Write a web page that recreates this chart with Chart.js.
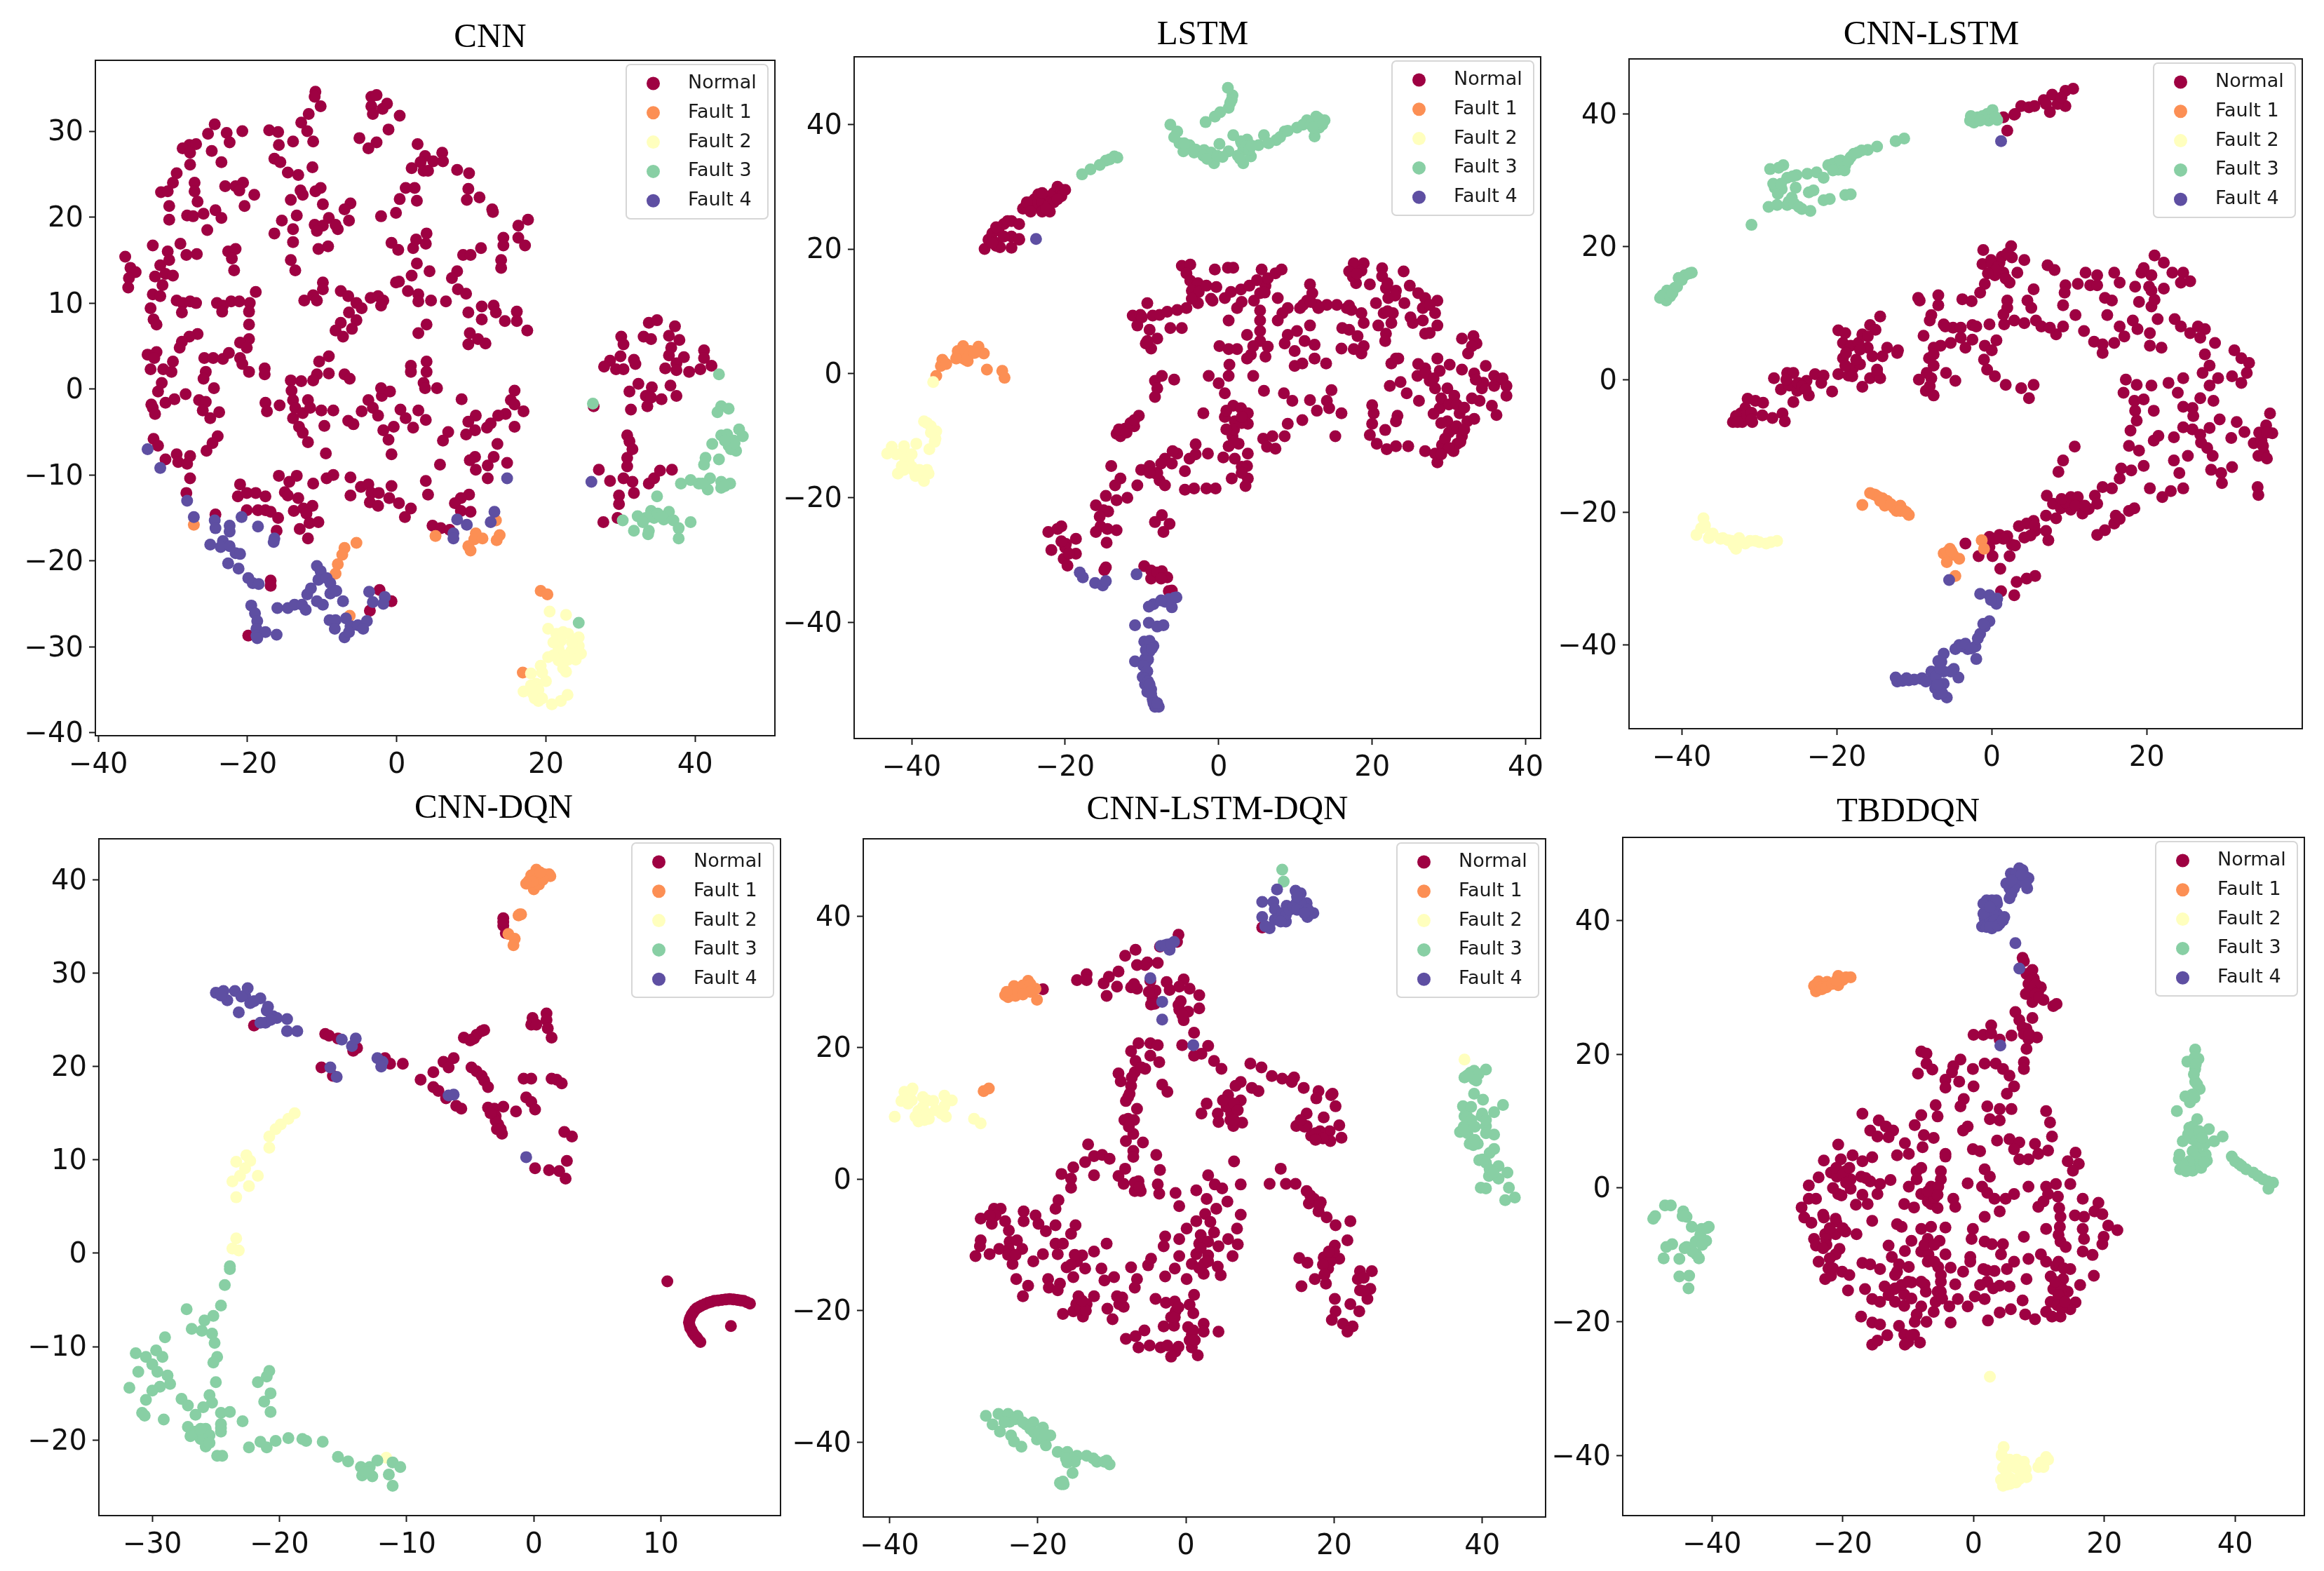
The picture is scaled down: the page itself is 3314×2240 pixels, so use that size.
<!DOCTYPE html>
<html>
<head>
<meta charset="utf-8">
<title>t-SNE feature plots</title>
<script src="https://cdn.jsdelivr.net/npm/chart.js@4"></script>
<style>
  html, body { margin: 0; padding: 0; background: #fff; }
  #page { position: relative; width: 3314px; height: 2240px; overflow: hidden; background: #fff; }
  canvas { position: absolute; }
  .title { position: absolute; font-family: "Liberation Serif", serif; font-size: 49px; color: #000; transform: translate(-50%, -50%); white-space: nowrap; }
</style>
</head>
<body>
<div id="page"></div>
<script>
'use strict'

// legend
const seriesNames = ['Normal', 'Fault 1', 'Fault 2', 'Fault 3', 'Fault 4'];
const seriesColors = ['#9e0142', '#fc8f54', '#ffffbe', '#88cfa4', '#5e4fa2'];

// ---- CNN ----
const cnnXTicks = [-40, -20, 0, 20, 40];
const cnnYTicks = [-40, -30, -20, -10, 0, 10, 20, 30];
const cnnNormal = [[-10.9,34.6],[-11,34],[-10.2,32.9],[-11.8,32],[-12.8,31],[-12,30],[-13.9,28.8],[-11.2,28.8],[-17.1,30.1],[-15.9,29.9],[-15.8,28.4],[-16.4,26.8],[-15.6,26.4],[-14.6,25.2],[-13.2,24.9],[-11.3,25.8],[-12.9,23.1],[-10.2,23.4],[-14.2,22],[-12.6,22.6],[-10.9,23],[-9.9,21.5],[-6.2,21.6],[-7,20.9],[-9.1,19.9],[-6.4,19.6],[-13.4,20.2],[-15.4,19.6],[-13.9,18.6],[-16.4,18.1],[-11,19.1],[-9.9,19],[-10.7,18.4],[-7.9,18.6],[-8.2,19.1],[-13.9,17.1],[-10.5,16.3],[-9.2,16.6],
[-3.4,34],[-2.7,34.2],[-3.4,32.9],[-3.2,32],[-1.9,32.6],[-1.3,33.2],[0.4,31.8],[-1.1,30.2],[-5,29.2],[-2.7,28.7],[-3.8,28],[2.8,28.5],[2,25.7],[3.8,27.1],[3.2,26.4],[4.9,26.5],[6.1,27.5],[6.2,26.5],[3.6,25.4],[4.2,25.4],[8.1,25.5],[9.7,25.1],[1.2,23.4],[2.4,23.4],[9.6,23.3],[9.4,22],[11.1,22.3],[0.4,22.1],[2.7,21.9],[-0.1,20.5],[-2.1,20.1],[12.8,20.9],[12.9,20.6],[17.6,19.7],[16.3,19],
[-24.4,30.8],[-22.8,29.8],[-20.7,30],[-22.4,28.7],[-25.3,29.7],[-27.8,28.4],[-26.9,28.5],[-28.7,28],[-27.7,27.5],[-24.8,27.7],[-23.5,26.4],[-27.7,26.1],[-29.5,25.1],[-30,24],[-31.6,22.9],[-30.7,23],[-27.1,24],[-27.1,23],[-23,23.6],[-21.6,23.6],[-20.6,24],[-21.1,23.1],[-19.1,22.6],[-26.7,21.8],[-30.5,21.3],[-20.4,21.3],[-30.5,19.7],[-28.1,20.2],[-27.3,20.1],[-25.9,20.4],[-24.3,20.8],[-23.5,19.9],[-25.4,18.5],[-32.7,16.7],[-30.7,16],[-29,16.9],[-28.2,15.6],[-26.8,15.7],[-31.7,14.4],[-30.5,15],[-36.4,15.4],[-35.7,14.1],[-35,13.6],[-35.9,12.9],[-36,11.8],[-32.4,13.1],[-31,13.4],[-30,13.2],[-31.4,12.1],[-32.7,11],[-31.7,10.8],[-29.5,10.3],[-28.7,10],[-27.7,10.2],[-26.9,10],[-28.8,8.9],[-33,9.4],[-32.6,8.1],[-32.2,7.5],[-24.1,10],[-23.3,9.7],[-23.4,9],[-22.2,10.2],[-21.1,10.2],[-19.7,10],[-19.8,9],[-18.9,11.3],[-22.6,16],[-21.6,16.3],[-22.1,15.2],[-21.8,13.8],
[-19.8,7.5],[-19.8,5.8],[-21,5.4],[-20.1,4.8],[-26.7,6.4],[-27.8,6.1],[-28.8,5.5],[-29.1,4.8],[-33.4,4],[-32.2,4.3],[-32.5,3.6],[-30,3.2],[-25.8,3.6],[-24.6,3.6],[-23.3,3.5],[-22.5,4.2],[-21,3.6],[-20.7,2.9],[-33,2.3],[-31.3,2.3],[-30.2,2],[-25.6,2],[-25.9,1.2],[-19.8,2],[-17.7,2.4],[-17.7,1.7],[-31.5,0.7],[-32,-0.3],[-28.3,-0.6],[-24.5,0.1],[-32.9,-1.8],[-31,-1.6],[-29.8,-1.2],[-26.5,-1.3],[-25.6,-1.5],[-26,-2.5],[-25,-3.4],[-23.8,-2.7],[-32.7,-2.2],[-32.4,-2.9],[-32.6,-5.8],[-32,-6.6],[-24,-5.5],[-24.7,-6.3],[-25.5,-7.2],[-29.5,-7.6],[-31,-8.2],[-29.3,-8.5],[-27.7,-7.8],[-28.1,-8.7],[-27.7,-10.4],[-28.2,-12.1],
[-10.4,3.2],[-9.1,3.8],[-10.7,1.7],[-11.2,1],[-9.1,1.8],[-7,1.7],[-6.3,1.2],[-14.2,1],[-12.8,0.9],[-14.1,-0.2],[-17.6,-1.6],[-15.7,-1.9],[-17.4,-2.6],[-13.9,-1.3],[-13.6,-2.2],[-13.9,-3.4],[-12.6,-2.8],[-11.9,-1.3],[-11.6,-2.2],[-10.1,-2.5],[-8.5,-2.5],[-9.7,-4.3],[-13.1,-4.4],[-12.6,-5.1],[-11.9,-6.2],[-6.5,-3.7],[-5.8,-4.1],[-4.7,-2.6],[-3.8,-1.3],[-3.2,-2.2],[-2.5,-3.1],[-2,-0.8],[-2.1,0.1],[-0.9,-0.3],[0.5,-2.4],[1.2,-3.4],[2.2,-4.5],[2.9,-2.5],[3.9,-3.6],[-0.4,-4.4],[-1.8,-4.8],[-1.1,-5.9],[-0.7,-7.6],[-9.5,-7.5],[1.9,2.7],[1.9,2],[4,3.2],[4,2],[3.6,0.7],[3.8,0.1],[5.4,0.1],[8.7,-1.2],[15.8,-0.2],[15.3,-1.3],[15.8,-1.8],[14.6,-2.9],[13.6,-3.1],[12.6,-4],[12.1,-4.5],[17,-2.6],[15.8,-4.4],[10.6,-3.1],[9.6,-3.8],[10.5,-4.8],[9.3,-5.3],[6.9,-5],[6.2,-6],[13.5,-6.4],[10.5,-7.9],[9.8,-8.3],[13,-7.9],[12.2,-8.9],[10.6,-9.4],[14.8,-8.6],[5.8,-8.8],[12.2,-10.4],[3.9,-10.7],[4.2,-12.3],[9.7,-12.3],[8.6,-12.7],[7.8,-13.3],[8.6,-14.2],[9.9,-14.3],[4.8,-15.9],[5.9,-16.2],[7.1,-16.4],
[-9.9,12.4],[-9.9,11.6],[-11.2,10.9],[-12.4,10.3],[-10.7,10.3],[-7.5,11.4],[-6.5,10.8],[-5.4,10],[-4.7,9.4],[-6.4,8.9],[-5.4,8],[-7.5,7.7],[-8.2,6.8],[-6,7],[-7.2,6.1],[-3.5,10.6],[-2.5,10.8],[-1.8,10.3],[-2.1,9.7],[-0.1,12.4],[0.3,12.5],[1.5,11.4],[2.9,11],[2.9,10.2],[4.6,10.3],[6.6,10.2],[2,13.2],[4.4,13.7],[2.7,14.6],[-0.7,17],[0.2,16.2],[2.2,16.4],[2.6,17.4],[4,18.1],[3.9,16.9],[8.9,15.6],[9.9,15.6],[11.3,16.4],[8.1,13.7],[7.4,12.9],[8.2,11.6],[9.3,11.1],[14.3,17.6],[14.3,16.7],[16.3,17.6],[17.2,16.7],[14,15],[14,14.1],[11.4,9.6],[13,9.7],[13.3,8.9],[9.6,8.9],[11.4,8.1],[14.5,7.9],[16.1,9],[16.1,7.9],[17.5,6.8],[2.9,6.5],[4,7.5],[9.8,6.5],[10.9,5.8],[11.9,5.3],[9.6,5.2],[-14.2,15],[-13.6,13.8],
[-21,-11.1],[-21.3,-12.5],[-20.1,-12.1],[-18.9,-12.1],[-17.6,-12.5],[-20.1,-14.1],[-18.6,-14.1],[-17.6,-14.1],[-16.9,-14.3],[-15.8,-10.1],[-14.4,-10.8],[-13.4,-10.1],[-15,-12],[-14.6,-12.4],[-13.2,-12.7],[-11.2,-11],[-9.4,-10.4],[-8.5,-10],[-6.2,-10.3],[-4.8,-11.4],[-3.8,-11.1],[-6.2,-12.4],[-3.4,-12.1],[-2.4,-12.1],[-0.7,-11.3],[-3.6,-13.2],[-2.5,-13.6],[-1,-12.7],[0.3,-13.3],[1.9,-13.9],[1.1,-14.9],[-13.8,-14.2],[-12.5,-13.9],[-11.3,-13.6],[-12.1,-14.5],[-15.9,-15],[-11.7,-15.6],[-10.5,-15.5],[-13,-16.3],[-11.9,-17.4],[-16.1,-16.5],[-24.3,-14.6],[-16.9,-22.3],[-16.9,-22.9],[-19.9,-28.7],[-2.3,-23.4],[-0.7,-24.7],[-3.6,-25.8],
[33.8,7.7],[34.9,8],[37.3,7.3],[30.1,6.1],[30.4,5.2],[33.1,6.1],[34.1,5.8],[36.5,6.2],[37.9,5.7],[41.2,4.5],[36.8,4.8],[36.5,3.9],[41.2,3.6],[42.2,2.7],[30,3.8],[31.8,3.4],[28.6,3.3],[27.8,2.6],[29.4,2.3],[30.4,2.3],[32,2.9],[38.5,3.7],[37.5,3],[36,2.4],[37.5,2.2],[39.2,2],[40.7,2.3],[32.4,0.6],[34.2,0.2],[36.7,0.4],[31.2,-0.3],[33.4,-0.8],[34.1,-1],[37.5,-0.8],[35.5,-1.2],[31.4,-2.4],[33.6,-2],[26.4,-2],[30.9,-5.4],[31.2,-6.1],[31.6,-7],[30.9,-8],[30.9,-9],[27.1,-9.4],[28.6,-10.7],[30.4,-10.4],[31.6,-10.8],[31.8,-12.1],[29.8,-12.4],[29.8,-13.4],[33.8,-11],[34.5,-10.4],[35.3,-9.5],[36.9,-9.4],[27.7,-15.5],[29.6,-15]];
const cnnFault1 = [[-27.2,-15.8],[5.2,-17.1],[10.6,-16.8],[10.4,-17.5],[11.5,-17.4],[9.6,-18.3],[9.9,-18.8],[13.3,-15.3],[13.8,-17],[13.4,-17.6],[-5.4,-17.9],[-7,-18.5],[-7.3,-19.3],[-7.9,-20.4],[-8.2,-21.5],[-6.3,-26.4],[19.3,-23.5],[20.2,-23.9],[16.9,-33]];
const cnnFault2 = [[20.5,-25.9],[22.7,-26.3],[20.3,-27.9],[22.3,-28.3],[21.4,-28.5],[24.4,-28.9],[22,-29.3],[24.4,-29.9],[21.7,-30.2],[23.4,-30.5],[24.7,-30.8],[24,-31.5],[20.3,-31.2],[21.7,-31.6],[19.3,-32.2],[22.3,-32.5],[22.7,-32.9],[18,-33.1],[18.7,-34.3],[20,-34],[17,-35.2],[18.3,-35.5],[19,-36.3],[20.8,-36.7],[22,-36.3],[22.9,-35.6],[21,-29.5],[23,-28.5],[23.5,-29.5],[22.5,-31],[21,-31],[19.5,-33],[19,-35],[18.5,-36],[19.5,-36],[18,-34.5],[23,-31.5]];
const cnnFault3 = [[43.2,1.7],[26.3,-1.7],[43.5,-2],[44.5,-2.3],[43,-2.7],[45.9,-4.7],[43.5,-5.4],[44.3,-5.3],[46.4,-5.5],[42.3,-6.4],[45.2,-6],[44.5,-6.6],[45.5,-7.2],[41.4,-8],[43.2,-8.2],[41.2,-8.8],[38.1,-11],[39.4,-10.6],[40.5,-11],[42,-10.4],[43.5,-10.8],[44.7,-11],[41.7,-11.7],[43.5,-11.5],[34.9,-12.5],[30.3,-15.3],[32.3,-14.8],[34.1,-14.2],[36.5,-14.3],[33.4,-15],[34.5,-15],[35.8,-15.2],[31.8,-16.5],[33.8,-16.5],[33.7,-16.9],[37.1,-15.3],[39.4,-15.5],[37.8,-16.2],[37.8,-17.4],[24.4,-27.2],[44.8,-7],[45.3,-6.3],[44,-6],[34,-14.8],[35,-14.5],[33,-15.5],[35.5,-14.8],[41,-11],[44,-11.3]];
const cnnFault4 = [[-33.4,-7],[-31.7,-9.2],[-28.1,-13],[-27.2,-14.9],[-24.4,-15.3],[-24.3,-16.2],[-22.4,-15.9],[-22.4,-16.6],[-20.8,-14.9],[-18.6,-16],[-16.4,-17.4],[-16.5,-17.8],[-25,-18.1],[-23.3,-17.7],[-23.6,-18.4],[-22.4,-18.3],[-21.6,-19.1],[-21,-19.2],[-22.6,-20.3],[-21.2,-20.9],[-19.9,-22],[-19.3,-22.6],[-18.5,-22.7],[-19.5,-25.2],[-19,-26.1],[-18.7,-27],[-18.8,-27.9],[-18.8,-28.7],[-17.6,-28.3],[-18.7,-29],[-16.1,-28.6],[-16,-25.5],[-14.6,-25.5],[-13.7,-25.1],[-12.7,-25.1],[-12.2,-25.7],[-12,-23.9],[-11.5,-23.2],[-10.7,-20.6],[-10.2,-21.2],[-10.5,-22.2],[-9.4,-22],[-8.9,-22.6],[-8.9,-23.8],[-8.1,-23.5],[-10.7,-24.7],[-9.9,-25.1],[-7.2,-24.7],[-9,-26.9],[-8.2,-26.9],[-8.3,-27.9],[-6.8,-26.7],[-6.2,-27.6],[-7,-28.9],[-6.4,-28.3],[-5.2,-27.5],[-4,-27],[-4.5,-27.9],[-3.7,-23.6],[-3.2,-24.8],[-1.6,-24.2],[-1.8,-25],[7.6,-16.8],[7.6,-17.4],[8.1,-15.2],[9.4,-15.8],[12.6,-15.5],[13.1,-14.3],[14.8,-10.4],[26.1,-10.8]];

// ---- LSTM ----
const lstmXTicks = [-40, -20, 0, 20, 40];
const lstmYTicks = [-40, -20, 0, 20, 40];
const lstmNormal = [[-30.5,20],[-30,21.5],[-29.5,22.5],[-29,21],[-28.7,23],[-28.5,20.3],[-28,24],[-27.5,24.5],[-27,20.2],[-27,22],[-27,24.5],[-26,24],[-26,21.5],[-25.5,26.5],[-25,26.8],[-24.5,27.5],[-24,28],[-24,27],[-23.5,28.8],[-23,27.5],[-23,26],[-22,26],[-22,27.5],[-22,28.5],[-21.5,29],[-21.5,27.5],[-21,30],[-20.5,29.5],[-20.5,28.5],[-20,29.5],
[-4.8,17.3],[-3.7,17.5],[-4.2,16.1],[-3.7,14.9],[-2.7,14.5],[-3.5,13.3],[-2.6,13.1],[-1.6,14.1],[-0.3,13.9],[-2.7,11.3],[-0.8,11.7],[-0.5,16.7],[1.2,17],[1.9,17],[0.8,12.1],[1.6,13.1],[2.9,13.5],[4,14.1],[4.6,11.7],[5.6,16.7],[6.1,14.1],[5.4,12.9],[6.4,15.3],[7.4,16.1],[8.2,16.7],[7.7,12.1],[11.9,14.3],[12.2,12.9],[11.5,11.7],[12.8,11],[14.1,11],[15.4,11],[10.6,10.5],[9,10.5],[8.3,9.7],[7.7,8.5],[2.4,10.5],[1.3,8.5],[5.4,10.1],[5.4,8.5],[5.4,6.8],[5.4,5.2],[3.7,6.2],[4.5,4.4],[6.4,4.3],[6.1,2.7],[4.2,3],[0.1,4.4],[1.3,3.9],[2.4,3.9],[3.7,2.4],[1.4,1.4],[-11.2,9.3],[-10.2,9.4],[-9.3,11.3],[-8.6,9.3],[-7.7,9.4],[-6.7,9.9],[-5.4,10.2],[-4.2,10.5],[-10.6,7.7],[-6.3,7.3],[-4.8,7.3],[-8,5.6],[-9.3,5.2],[-8.8,4],[16.7,10.5],[17,10.9],
[17.6,17.7],[18.9,17.7],[17,16.4],[18.6,16.5],[17.9,14.5],[19.7,14.3],[21.3,16.9],[21.3,15.6],[24.1,16.4],[21.8,13.7],[23.1,13.3],[24.9,14.1],[26,12.9],[20.5,11.3],[22.1,12.1],[24.2,11.3],[26.9,12.1],[28.5,11.7],[21.5,9.7],[22.7,9.7],[26.6,10.5],[28.2,9.7],[20.8,7.7],[22.5,8.1],[25.3,8.1],[26.6,8.5],[28.5,7.7],[26.9,6.4],[21.8,6.4],[21.7,5.2],[18.6,9.7],[17.3,10.2],[18.9,8.1],[16.1,7.3],[17,7],[18.1,6],[18.9,4.4],[16,4],[17.6,3.9],[18.6,3.2],[9,6.2],[8.6,4.8],[10.2,6.8],[11.9,7.7],[11.2,5.2],[12.5,4.6],[9.9,3.6],[9.9,1.2],[10.9,1.6],[12.5,2.4],[14,1.6],[23.1,2.4],[22.5,1.6],[23.4,2.4],[31.7,5.6],[33.2,6],[33.6,4.8],[33,4.4],[32.5,3.2],[26.9,0.8],[28.5,2.4],[30.1,1.4],[31.7,0.6],[33.3,0],[34.8,1.2],[25.9,-0.4],[27.5,-1.2],[28.8,0.4],[28.2,-2.4],[29.8,-2.4],[30.7,-3.6],[34.3,-2.4],[35.9,-0.4],[35.9,-2],[37.5,-2],[37.5,-3.6],[34,-4.4],[35.6,-5.2],[36.2,-6.7],[22.3,-2],[23.7,-1.4],[24.5,-3.2],[26.1,-4.4],[23.3,-6.8],[23.1,-7.7],[28.8,-5.6],[29.8,-7.7],[31.4,-6.4],[32.4,-7.7],[33.3,-7.3],[30.7,-8.9],[31.7,-10.1],[31.1,-11.3],[30.6,-12.5],[29.1,-11.5],[26.9,-12.5],[28.2,-12.9],[28.5,-14.3],[24.7,-11.7],[23.1,-11.7],[21.9,-12.2],[20.6,-11.3],[19.7,-9.9],[20,-8.1],[20.2,-6.4],[20,-5.1],[21.7,-9.1],
[-1.3,-0.4],[0,-1.6],[1.3,-0.4],[0.8,-3.2],[4.5,-0.4],[5.9,-2.8],[8.5,-3.2],[9.6,-4.4],[11.9,-4.3],[14.7,-2.7],[14.1,-4.4],[12.8,-6],[16,-6.4],[14.4,-5.6],[10.9,-7.5],[9,-8.1],[8.6,-10.1],[5.8,-10.5],[7,-10.1],[6.3,-11.8],[7.4,-12.1],[15.2,-10.1],[-2,-6.4],[0.8,-7],[1.9,-5.2],[2.9,-5.6],[3.8,-6.4],[2.1,-7.7],[3.8,-8.1],[1.8,-10.1],[1.3,-11.7],[2.6,-11.3],[0.6,-13.5],[2.1,-13.7],[3.8,-12.9],[3.7,-14.9],[1.7,-16.9],[3.8,-16.9],[3.5,-18.1],[-1.4,-12.9],[-3,-11.4],[-5.4,-12.9],[-3.8,-13.7],[-4.4,-15.7],[-7,-13.7],[-6.1,-14.5],[-4.4,-18.7],[-3.2,-18.5],[-1.6,-18.5],[-0.4,-18.5],[-8.3,-1.2],[-7.4,-0.4],[-5.8,-1],[-8,-2.4],[-8.3,-3.8],[-10.4,-6.8],[-11,-8.5],[-12.2,-8.9],[-13.3,-9.7],[-12.8,-10.1],[-9,-14.9],[-10.1,-15.5],[-8.2,-16.1],[-7.7,-17.2],[-7,-18],[-14,-14.9],[-12.8,-16.9],[-13.5,-18],[-10.6,-18],[-11.9,-20],[-13.3,-20.4],
[-14.7,-19.7],[-16,-21.2],[-14.4,-22.2],[-15.4,-24.6],[-16,-25.5],[-13.3,-25.2],[-14.6,-27.2],[-22.2,-25.5],[-20.5,-24.6],[-18.6,-26.6],[-19.9,-27.4],[-21.8,-28.4],[-18.6,-29],[-20.2,-29.8],[-19.7,-30.9],[-14.7,-31.2],[-14.9,-31.6],[-7.4,-22.8],[-8.3,-23.9],[-6.4,-24.2],[-7.2,-25.5],[-9.7,-31],[-8.8,-31.7],[-8.8,-33],[-7.4,-31.8],[-6.7,-32.8],[-6.1,-34.9],[-26,21.6],
[29,-8],[30,-9.5],[31,-8.5],[29.5,-10.5],[30,-12],[29,-13],[32,-9],[28,-6.5],[29,-4],[30,-5],[31,-5],[32,-5.5],[33,-4],[34.5,-1.5],[33.5,-1],[36.5,-1],[37,-0.8],[27,0],[28,-0.8],[26,1.5],[31.5,-11],[-29,20.5],[-28,22],[-29.5,21],[-23,29],[-22.5,26.5],[-21,28],[-25,27.5],[-24.5,26],[-29,23.5],[6,13],[5,15],[3,11.5],[-1,12],[-3.5,12],[-10,9],[-9,7],[-9.5,4.8],[-13,-9],[-12,-9.5],[-11.5,-8],[-11,-7.5],[17.5,15.5],[18,16],[22,10],[23,12.5],[25,9],[27.5,6.5],[27.5,11],[22,14.5],[11,11],[13,10.5],[12,11.5],[-20,-28],[-20.5,-27],[-19.5,-29],[-21,-25],[-15,-22],[-15.5,-23],[-14.5,-25],[-8,-32],[-6.5,-35],[-7.5,-33],[2,-9],[1,-9],[3,-8],[1,-6],[3,-7],[-8,-16],[-9,-16],[-7.5,-14.5],[-3,-13],[-6,-12.5],[2,-11],[3,-15],[3,-16]];
const lstmFault1 = [[-36.8,-0.4],[-36.2,1.2],[-36,2.2],[-34,3.6],[-33.3,4.4],[-32.4,3.6],[-32.7,2],[-31.3,4.3],[-30.6,3.2],[-30.2,0.6],[-28.2,0.4],[-27.9,-0.7],[-34,3],[-33.5,2.5],[-33,3.5],[-32.5,3],[-33,2.2],[-35.5,1.5],[-34.2,2.4],[-31.8,3.3]];
const lstmFault2 = [[-37.2,-1.4],[-38.4,-7.7],[-37.5,-8.5],[-36.8,-9.3],[-36.9,-10.5],[-37.7,-12.2],[-39.4,-11.3],[-42.6,-11.8],[-43.2,-12.9],[-41,-11.7],[-41,-13.3],[-40.4,-14.1],[-41.8,-16.1],[-39.7,-15.7],[-38.8,-16.5],[-37.8,-16.1],[-38.4,-17.3],[-41.3,-14.9],[-41,-12.5],[-40,-13],[-40,-15],[-41,-15.5],[-39.5,-16.5],[-38,-15.5],[-37.5,-9.5],[-37,-11],[-38,-8],[-42,-13],[-39,-15.5]];
const lstmFault3 = [[-17.8,32],[-16.7,32.8],[-14.7,34.2],[-13.6,34.9],[-6.3,40],[-5.4,38.9],[-5.1,37],[-3.8,36.7],[-4.6,35.7],[-3.2,35.5],[-1.9,35.9],[-0.6,33.8],[-1,35.5],[0.1,36.9],[1.3,35.7],[-1.7,40.4],[-0.5,41.3],[1.3,42.7],[1.8,44.7],[1.2,45.9],[1.9,38.3],[2.9,37.3],[3.7,37.6],[3.2,35.9],[4.2,34.9],[3.2,33.8],[5.2,36.7],[5.9,38.3],[7.5,37.5],[8.6,38.9],[10.2,39.5],[11.5,40.7],[12.5,38.1],[12.7,41.3],[13.8,40.7],[13.1,39.5],[-5.8,38],[-4.5,37],[-3,36],[-2,35],[-1.5,34.5],[-0.2,35],[0.5,34.8],[2.5,35],[3,37],[3.5,36.5],[4,36],[2.8,34.5],[4.3,36.6],[6.5,37],[8,38],[9,39],[11,40],[12,40],[13,41],[13.5,40],[12.3,39.5],[1.7,44],[1.5,43.5],[0.2,42],[-15.5,33.5],[-13.2,34.7],[-14.2,34.4]];
const lstmFault4 = [[-23.8,21.6],[-18.1,-32],[-17.7,-32.8],[-16.1,-33.7],[-15.1,-34.1],[-14.7,-33.4],[-10.7,-32.3],[-5.8,-36.1],[-7,-36.7],[-6.1,-37.6],[-8.5,-37.1],[-9.1,-37.5],[-10.9,-40.5],[-9.1,-40.1],[-8,-40.7],[-7.2,-40.5],[-9.7,-43.1],[-8.5,-43.8],[-9,-44.7],[-10.9,-46.3],[-9.6,-45.9],[-9.9,-48.8],[-9.3,-47.9],[-9.6,-50],[-8.8,-50.8],[-9.3,-51.2],[-8.6,-52.4],[-8.3,-53.6],[-7.8,-53.6],[-9.5,-46.5],[-9.2,-46],[-9.8,-47],[-9.4,-48],[-9.7,-49],[-9.2,-49.5],[-9,-50],[-8.8,-51.5],[-8.5,-53],[-8,-53],[-9,-43],[-9.5,-44.5],[-8.7,-44.2],[-6.5,-36.3],[-7.5,-36.5],[-5.5,-36]];

// ---- CNN-LSTM ----
const cnnLstmXTicks = [-40, -20, 0, 20];
const cnnLstmYTicks = [-40, -20, 0, 20, 40];
const cnnLstmNormal = [[1.5,39.5],[2.9,39.9],[3.8,41.2],[4.8,41],[6.7,42.1],[7.8,42.9],[8.9,41.8],[7.5,40.3],[9.5,43.5],[10.5,43.8],[9.5,41.2],[2,37.5],
[-33.4,-6.4],[-32.4,-5.1],[-31.5,-2.9],[-30.5,-3.2],[-30.9,-6.4],[-32.2,-6.4],[-31.8,-4.3],[-29.6,-5.4],[-28.3,-5.8],[-27,-5.1],[-26.7,-6.3],[-28.1,0.2],[-27.2,-1.5],[-26.4,1],[-25.6,1],[-26.1,-0.9],[-25.6,-3.4],[-25.1,-1.7],[-23.9,-0.2],[-23.6,-2.4],[-22.8,0.8],[-21.7,0.6],[-20.6,-1.8],[-19.8,0.8],[-18.5,0.6],[-17.9,1.7],[-16.7,-1.1],[-15.7,0.2],[-14.8,1],[-14.4,0.2],[-17,2.3],[-19.2,3.2],[-19.2,5.5],[-19.8,7.4],[-18.9,7],[-18.2,5.1],[-17.2,5.5],[-16.7,6.8],[-15.7,8.2],[-14.4,9.5],[-16,4.8],[-15.4,3.5],[-14.1,3.5],[-13.5,4.8],[-12.2,4],[-12.1,4.4],[-18.9,2.1],
[-9.5,12.3],[-9.3,11.9],[-6.9,12.7],[-6.9,11.2],[-7.8,9.7],[-8,8.9],[-6.2,8.3],[-5,7.8],[-4,7.8],[-2.5,8.2],[-8.8,6.6],[-6.6,5.1],[-5.3,5.5],[-4,6.3],[-2.5,6],[-3.4,4.8],[-7.5,4.8],[-8.1,3.2],[-7.5,2.1],[-9.4,0],[-7.8,0.2],[-5.9,1],[-4.7,-0.2],[-8.5,-1.7],[-7.5,-2.4],[-3.8,12.1],[-2.6,11.8],[-0.9,5.1],[0.6,5.9],[0,4.4],[-1,3],[-0.6,1.5],[0.4,0.5],[1.8,-0.8],[3.8,-1.3],[4.8,-2.8],[5.4,-0.8],[-0.3,8.3],
[-1.1,19.5],[-1.2,17.4],[-0.1,18],[1,17.6],[1.5,16.1],[0.4,15.7],[2.5,20.1],[2.6,18.4],[4.2,18],[2.3,14.6],[3.3,16.1],[-0.9,14.4],[-1.5,13.1],[2,11.9],[2,10.8],[1.6,8.3],[1.5,9.8],[2.9,8.9],[4.2,8.5],[4.6,11.9],[5.1,10.8],[5.4,13.6],[5.7,8.9],[6.4,8],[8.3,6.8],[9.2,8],[7.5,7.8],[7.2,17.2],[8.1,16.5],[9.2,11.2],[9.5,14.2],[9.4,13.1],[10.8,9.7],[11.9,7.3],[11.1,14.4],[12.1,16.1],[13.6,15.7],[12.7,14.2],[13.6,14.2],[14.6,12.3],[15.5,11.9],[14.9,9.7],[15.8,16.1],[16.5,14.6],[18.5,14],[19,11.7],[19.3,16.1],[19.6,16.8],[21,18.7],[22.2,17.6],[20.6,15.7],[22.2,13.7],[20.6,13.4],[20.6,11],[21.4,9.1],[23.3,16.1],[24.7,16.1],[24.4,14.6],[25.6,14.8],[16.5,8],[18.2,8.9],[17.1,6.5],[18.8,7.6],[20.4,7],[20.4,5.1],[21.9,4.8],[13.2,5.7],[14.3,4],[14.3,5.3],[15.8,5.5],[23.6,9.1],[24.4,8],[25.6,7],[26.6,8],[27.5,7.6],[26.9,6.3],[28.8,5.5],[27.5,3.8],[28.1,2.1],[31.3,4.4],[32.2,3.2],[33.2,2.5],[32.9,1],[31,0.5],[29.2,0.2],[32.2,-0.5],
[17.3,0],[18.7,-0.8],[20.6,-0.9],[17,-2],[18.4,-3.2],[19.6,-3],[20.9,-4.7],[18.5,-4.7],[18.7,-6.2],[17.9,-7.7],[22.8,-0.5],[24.7,0.2],[24,-2],[24.7,-4.1],[25.9,-4.3],[26.9,-2.8],[28.1,-0.9],[28.6,-3.2],[27.2,1],[24.7,-7.2],[25.9,-7.5],[26.9,-8.3],[28.1,-7.3],[29.4,-6],[31.6,-6.4],[32.6,-7.9],[30.9,-8.8],[23.5,-8.7],[20.9,-9.2],[21.5,-8.5],[17.7,-10],[19,-10.7],[25.3,-11.5],[27.8,-10.3],[28.3,-13.6],[23.5,-12.2],[24.2,-14.1],[24.7,-16.4],[29.6,-14.1],[31,-13.2],[29.7,-15.6],[33.8,-9.6],[34.8,-9.2],[35.1,-11.1],[34.4,-11.5],[35.9,-5.1],[35.4,-6.9],[36.2,-8.1],[35.5,-11.9],[34.3,-16.2],[34.4,-17.4],[22,-17.7],[23.1,-16.8],[20.4,-16.4],[16.5,-14.9],[16.7,-13.4],[18,-13.7],[19.6,-13],[10.7,-10.1],[9.2,-12.2],[8.6,-13.9],
[7.1,-17.5],[7.9,-18.7],[10.2,-17.7],[11.1,-17.7],[8.9,-19.4],[10.2,-19.6],[13.3,-17.5],[14.3,-16.2],[15.5,-16.4],[13.6,-18.7],[11.7,-20.2],[17.7,-19.8],[18.4,-19.4],[15.8,-21.7],[14.6,-22.7],[13.6,-23.4],[7,-20.5],[8.3,-20.9],[5.4,-21.3],[3.5,-22.1],[4.5,-21.7],[7,-22.8],[7.3,-24.2],[5.6,-22.8],[4.2,-23.8],[2.6,-24.9],[2.3,-26.6],[-0.3,-23.7],[1,-23.4],[2,-23.6],[-0.3,-25.2],[0.1,-26.6],[1.1,-28.5],[-3.4,-24.7],[-1.7,-26.6],[5.6,-29.6],[4.5,-30],[3.2,-30.5],[2.9,-32.5],[1.2,-31.9],
[-32,-5.5],[-31,-5],[-29.5,-3.5],[-33,-5.5],[-31,-6],[-32.8,-6.4],[-26.5,0],[-25,-0.5],[-24.5,-1],[-24,-1.5],[-22,-0.5],[-18,0.5],[-17.5,3],[-18.8,4],[-17,4.5],[-14.8,1.5],[-15,7.5],[-16,6.5],[0,17.5],[0.8,17],[1.3,18.5],[0.5,16.5],[2,19],[-0.5,16],[1.8,15.2],[-2,8],[-6,8],[-7.5,3.8],[-8.4,1],[-8,-1],[8.5,41.5],[9,42.5],[7,41.5],[5.5,41.2],[3,40],[20.3,14],[21,12],[26,-5.5],[27,-9.5],[28.5,-11.5],[34.5,-8],[35.5,-8],[35,-10],[9.5,-18.5],[10.8,-19],[9,-18],[12.5,-19.5],[12,-19],[5.5,-22],[5,-23.5],[3,-25],[1.5,-24],[0.5,-24],[16,-20.5],[16.5,-21]];
const cnnLstmFault1 = [[-16.7,-18.9],[-15.7,-17.1],[-15,-17.4],[-14.1,-17.9],[-13.5,-18.3],[-13.8,-19],[-12.6,-19.4],[-11.8,-19],[-11.3,-19.8],[-10.7,-20.4],[-1.3,-24.2],[-1,-25.5],[-6.2,-26.2],[-5.4,-25.5],[-5,-26.4],[-4.2,-27],[-5.8,-27.5],[-4.7,-29.6],[-15.2,-17.3],[-14.6,-17.7],[-14.4,-18.3],[-13,-18.8],[-12.3,-19.8],[-11.8,-19.8],[-11,-20],[-5.8,-26],[-5.2,-25.9]];
const cnnLstmFault2 = [[-37.2,-20.9],[-37.5,-22.4],[-38.1,-23.4],[-36,-23.2],[-36.5,-23.9],[-34.7,-23.9],[-33.6,-24.3],[-32.6,-23.9],[-33,-25.5],[-31.8,-24.7],[-30.5,-24.3],[-29.1,-24.7],[-27.7,-24.3],[-37,-22],[-36.3,-23.5],[-35,-24],[-34,-24.2],[-33.3,-25],[-32.4,-24.5],[-31.2,-24.3],[-30,-24.5],[-28.5,-24.5]];
const cnnLstmFault3 = [[-42.8,12.3],[-42,11.9],[-41.9,13.4],[-40.9,13.8],[-40.4,15.3],[-39.6,15.7],[-38.7,16.1],[-31,23.3],[-28.6,31.7],[-26.9,32.3],[-28.8,26],[-28,28.9],[-27.1,28.7],[-26.4,30.4],[-25.2,30.8],[-25.3,28.9],[-27.7,26.3],[-25.8,27.4],[-26.4,26.3],[-24.5,25.7],[-23.4,25.4],[-23.6,28.2],[-23,28.5],[-23.8,31],[-22.6,31.2],[-21.7,30.4],[-21.7,27],[-20.9,27.2],[-18.9,27.8],[-18.2,27.9],[-21.1,32.3],[-19.8,32.9],[-19.8,31.6],[-18.9,32.3],[-18.2,33.5],[-17.3,34.2],[-16,34.6],[-14.8,35.1],[-12.4,35.9],[-11.3,36.3],[-2.8,39],[-1.8,39.5],[-0.6,40],[0.1,40.6],[0.7,39.1],[-42.5,12.7],[-41.5,12.5],[-41.2,13],[-40.6,14],[-40,15],[-39,16],[-20.5,32.5],[-20,32],[-19.3,32.5],[-19,31.5],[-19.5,33],[-18.5,33],[-17.8,34],[-16.8,34.5],[-20.5,31.5],[-28.2,29.5],[-27.6,28],[-27.2,29.5],[-27.5,31.9],[-26.2,26.8],[-25.5,26.5],[-24.9,26],[-25.7,30.6],[-2.3,38.7],[-1.2,39.7],[-2.7,39.7],[-0.4,39],[-1.5,39],[0.5,39.5]];
const cnnLstmFault4 = [[1.2,35.9],[-5.5,-30.2],[-1.5,-32.3],[-0.3,-32.5],[0.7,-33],[0.6,-33.8],[-0.3,-36.4],[-0.9,-37.2],[-1.5,-38.3],[-2.1,-40.2],[-4.2,-40],[-4.7,-40.6],[-3.1,-40.6],[-2,-42.1],[-6.2,-41.3],[-6.9,-42.4],[-4.9,-43.6],[-6.2,-44],[-4.3,-44.9],[-7.8,-44],[-9.1,-45.1],[-7.5,-45.2],[-10.7,-45.3],[-12.2,-45.5],[-12.4,-44.9],[-6.9,-47.4],[-5.8,-47.9],[-6.2,-45.8],[-9,-45],[-10,-45.2],[-11.5,-45.4],[-11,-45],[-8.5,-45.5],[-7.2,-44.7],[-6.7,-43.5],[-6.5,-42.5],[-5.3,-44],[-3.8,-40.2],[-3.4,-39.8],[-2.6,-40.5],[-1.1,-36.8],[-1.8,-39],[-7.3,-46.5],[-6.4,-47.2],[-7,-46],[0.5,-33.3],[-0.1,-33.2]];

// ---- CNN-DQN ----
const cnnDqnXTicks = [-30, -20, -10, 0, 10];
const cnnDqnYTicks = [-20, -10, 0, 10, 20, 30, 40];
const cnnDqnNormal = [[10.5,-3],[13.1,-9.5],[12.8,-9],[12.5,-8.5],[12.3,-8],[12.2,-7.4],[12.3,-6.9],[12.5,-6.4],[12.8,-5.9],[13.2,-5.6],[13.7,-5.3],[14.2,-5.1],[14.8,-5],[15.4,-4.9],[16,-5],[16.5,-5.1],[17,-5.4],[15.5,-7.8],[12.9,-9.2],[12.65,-8.8],[12.4,-8.2],[12.25,-7.7],[12.25,-7.1],[12.4,-6.6],[12.65,-6.1],[13,-5.75],[13.45,-5.45],[13.95,-5.2],[14.5,-5.05],[15.1,-4.95],[15.7,-4.95],[16.25,-5.05],[16.75,-5.25],
[-16.4,23.5],[-16.1,23.3],[-15.4,23],[-14.2,21.7],[-13.9,22],[-22,24.4],[-16.7,19.9],[-15.8,19],[-11.7,20.9],[-11.3,20.3],[-10.3,20.3],[-8.9,18.6],[-7.9,19.4],[-7.9,17.8],[-7.5,17.4],[-6.9,16.6],[-6.1,15.8],[-5.7,15.5],[-7.1,20.5],[-6.7,19.9],[-6.3,20.9],[-5.5,23.1],[-4.9,22.9],[-4.5,23.4],[-4.1,23.8],[-3.9,23.9],[-4.9,19.9],[-4.5,19.5],[-4.1,19],[-3.9,18.5],[-3.6,17.8],[-3.6,15.6],[-3.1,15.5],[-2.4,15.7],[-3,14.7],[-2.8,13.8],[-2.5,12.8],[-1.4,15.2],[-0.8,18.7],[-0.2,18.7],[-0.6,16.7],[-0.2,16.2],[0.1,15.4],[-0.1,25.2],[-0.2,24.5],[0.2,24.5],[1,25.7],[1,25],[1.1,24.1],[1.4,23.1],[1.4,18.7],[1.8,18.6],[2.2,18.2],[2.4,13],[3,12.5],[2.6,9.9],[2,8.8],[2.5,8],[1.2,8.9],[0.1,9.1],[-2.4,35.9],[-2.4,35.1],[-2.2,34.3],[-2.4,35.5],[-4.7,23],[-5,22.8],[-3,14.2],[-3.4,15],[-2.9,13.3],[-2.6,13.3]];
const cnnDqnFault1 = [[0.2,41.1],[-0.4,39.9],[0.2,40.2],[0.8,40.6],[0,39],[1.2,40.6],[1.3,40.4],[-1,36.3],[-1.2,36.2],[-2,34.2],[-1.5,33.7],[-1.6,33],[-0.2,40.5],[0.4,39.5],[0.7,40],[-0.1,39.8],[0.5,40.8],[-0.6,39.6],[-1.1,36.3]];
const cnnDqnFault2 = [[-18.8,15],[-19.3,14.4],[-19.9,13.8],[-20.3,13.3],[-20.8,12.5],[-20.8,11.3],[-22.6,10.5],[-22.3,9.9],[-23.4,9.8],[-22.7,9.1],[-23.1,8.3],[-21.7,8.3],[-23.7,7.7],[-22.4,7.2],[-23.4,6],[-23.4,1.6],[-23.7,0.5],[-23.2,0.3],[-11.6,-21.9]];
const cnnDqnFault3 = [[-23.9,-1.4],[-23.9,-1.7],[-24.3,-3.4],[-24.6,-5.6],[-27.3,-6],[-25.2,-6.7],[-25.9,-7.2],[-26.9,-8.1],[-26.1,-8.3],[-25.3,-8.6],[-25.1,-9.6],[-29,-9],[-31.3,-10.7],[-30.5,-11.1],[-29.7,-10.4],[-29.2,-11.1],[-30,-11.9],[-31.1,-12.7],[-29.6,-12.7],[-24.9,-11.1],[-25.2,-11.7],[-28.8,-13.1],[-28.6,-14],[-29.4,-14.3],[-31.8,-14.4],[-25,-13.8],[-30,-14.7],[-30.5,-15.7],[-30.8,-17.1],[-30.6,-17.4],[-29.1,-17.8],[-27.7,-15.6],[-27.2,-16.3],[-25.5,-15.2],[-25.3,-16],[-26,-16.5],[-26.6,-17.3],[-20.8,-12.6],[-21,-13.2],[-21.7,-13.8],[-20.7,-15],[-21.2,-15.9],[-20.7,-17],[-24.6,-17.1],[-23.9,-17],[-24.6,-18.3],[-27.2,-18.6],[-25.8,-18.8],[-26.6,-19.1],[-27,-19.6],[-26.2,-19.9],[-25.8,-20.7],[-24.6,-19.1],[-22.9,-18],[-24.9,-21.7],[-24.5,-21.7],[-22.4,-20.8],[-21.5,-20.2],[-21,-20.8],[-20.3,-20.1],[-19.3,-19.8],[-18.2,-19.9],[-17.9,-20.1],[-16.6,-20.2],[-15.4,-21.8],[-14.6,-22.3],[-13.6,-22.9],[-13.5,-23.8],[-12.7,-23.9],[-12.9,-22.9],[-12.3,-22.2],[-11.1,-22.4],[-10.5,-22.9],[-11.4,-23.7],[-11.1,-24.9],[-26,-19.5],[-25.5,-19.5],[-26,-20],[-26.2,-18.8],[-25.5,-20.3],[-13.2,-23.4],[-13,-23.5],[-24.6,-18.7]];
const cnnDqnFault4 = [[-25,27.9],[-24.4,28.1],[-23.5,28.1],[-24.1,27.1],[-22.5,28.4],[-22.7,27.6],[-22.3,26.8],[-21.5,27.3],[-20.9,26.4],[-23.2,25.8],[-20.5,25.4],[-21.1,24.7],[-20.2,25.2],[-19.4,25.1],[-19.4,23.8],[-18.6,23.8],[-15.1,22.9],[-14.3,22.2],[-14,23],[-12.3,20.9],[-11.9,20.5],[-12,20],[-16,19.9],[-15.5,18.9],[-6.7,16.9],[-6.3,17],[-0.6,10.3],[-23,27.5],[-22,27],[-21,26],[-20.7,25],[-21.5,24.7],[-24.6,27.6]];

// ---- CNN-LSTM-DQN ----
const cnnLstmDqnXTicks = [-40, -20, 0, 20, 40];
const cnnLstmDqnYTicks = [-40, -20, 0, 20, 40];
const cnnLstmDqnNormal = [[-19.3,28.9],[-14.7,30.3],[-13.4,31.2],[-13.4,30.3],[-11.1,29.8],[-10.7,27.9],[-9.3,29.3],[-10.4,30.8],[-9.1,31.6],[-8.2,34],[-6.8,34.9],[-6.6,32.6],[-5.5,32.6],[-3.8,32.9],[-7.4,29.2],[-6.6,29],[-4.8,30.2],[-4.5,27.5],[-4.7,26.6],[-4.1,28.7],[-2.6,30],[-2.2,28.8],[-0.3,30.4],[-0.9,29.3],[0.5,29],[1.8,28],[-0.7,27.1],[1.8,26],[-0.9,25.8],[0.3,25.5],[-0.3,24.2],[-1,37.2],[-1.2,36.1],[-3.5,35.4],
[1.1,22.3],[-0.5,20.4],[3,20.3],[2.1,19.1],[1.1,18.8],[3.8,18],[4.8,16.8],[8.7,17.6],[10.2,17],[11.6,15.7],[13,15.3],[14.3,14.8],[14.6,15.5],[15.9,13.9],[7.4,14.8],[6.7,14.2],[8.9,13.9],[9.8,13.4],[17.9,13.4],[19.6,12.8],[17.6,12.3],[20.2,11.1],[5.7,12.8],[7.4,12],[6.1,11.1],[2.8,11.5],[2.1,10],[4.3,10],[6.1,10],[4.4,8.7],[7.6,8.6],[6.4,8.1],[16.3,10],[14.9,8.1],[16.3,8.1],[18.6,9.4],[16.9,6.6],[19.4,7.3],[20.7,8.2],[21,6.3],[19.5,5.8],[18.1,7.3],
[-6.4,20.7],[-4.8,20.7],[-3.8,20.4],[-7.4,19.5],[-4.8,18.8],[-3.6,17.8],[-6.8,18],[-5.5,16.8],[-9.1,16.1],[-6.9,16.3],[-8.8,14.9],[-7.4,14.2],[-3.2,14.4],[-2.5,13.3],[-8.1,11.9],[-6.6,10.7],[-7.8,9.2],[-7.1,6.9],[-8.1,5.8],[-5.8,5.6],[-7.1,4.3],[-7.1,3.4],[-4,3.7],[6.5,2.7],[-13.2,5.3],[-12.4,3.5],[-11.3,3.7],[-10.3,3.1],[-13.6,2.6],[-15.2,1.8],[-16.8,0.8],[-12.4,0.6],[-15.5,0.1],[-15.5,-1.3],[-9.1,0.5],[-8.2,1.6],[-8.4,-0.7],[-6.4,-0.3],[-6.9,-1.8],[-6.1,-1.8],[-3.5,1.4],[-3.8,-0.8],[-3.6,-2.2],[-1.4,-2.1],[-0.9,-4.1],[1.4,-1.7],[3,0.6],[3.9,-0.8],[4.9,-1.4],[7.4,-0.8],[5.6,-3.4],[2.8,-3],[4.1,-4.5],[2.6,-5.3],[7.4,-5.4],[6.9,-7.5],[1.4,-6.4],[0.1,-7.5],[3.8,-8.1],[-2.8,-8.7],[-3,-10.2],[-0.9,-9.1],[7,-9.9],[5.7,-9.1],[4.4,-10.2],[1.8,-9.8],[3,-11.6],[1.4,-11.4],[-0.9,-11.7],[6.3,-11.7],[0.8,-12.9],[4.3,-13.3],[2.4,-14.4],[4.7,-14.6],[11.3,-0.7],[12.8,1.6],[13.5,-0.7],[14.8,-0.7],[16.3,-1.8],[16.6,-3.7],[18.2,-3.5],[17.9,-4.9],[19,-5.8],[20.2,-7],[22.2,-6.4],[21.8,-9.3],[20.1,-10.1],[20.7,-12.1],[18.6,-11.9],[15.3,-12],[16.4,-12.7],[19.2,-13.6],[17.4,-15.2],[15.6,-16.3],[18.9,-15.9],[20.1,-18.2],[23.5,-14],[25.1,-14],[23.2,-15.2],[24.9,-16.7],[23.5,-16.9],[24.5,-18.2],[22.2,-19],[23.4,-20.1],[20.2,-20.1],[19.7,-21.4],[21.2,-22],[22.5,-22.4],[21.8,-23.2],
[-27.7,-6],[-25.9,-4.5],[-25,-4.5],[-26.2,-6.8],[-24.4,-6.4],[-21.9,-4.9],[-21.9,-6.4],[-23.9,-7.8],[-20.3,-5.5],[-19.9,-6.8],[-18.9,-7.9],[-17.6,-7],[-14.9,-7],[-17.2,-3.2],[-17.6,-4.5],[-27.7,-9.3],[-27.8,-10.2],[-28.4,-11.7],[-26.5,-11.4],[-25.2,-10.6],[-23.8,-9.5],[-22.8,-9.3],[-23.9,-10.6],[-22.1,-10.6],[-23.4,-12.9],[-20.6,-12.5],[-19.3,-11.4],[-17.6,-9.8],[-16.6,-9.8],[-15.5,-8.3],[-17.3,-11.4],[-12.4,-11],[-10.7,-9.8],[-14,-11.6],[-14.7,-12.5],[-16.1,-13.4],[-13.6,-13.6],[-15.2,-14.9],[-11.4,-13.6],[-11,-15.4],[-9.7,-14.9],[-7.4,-13.4],[-5.1,-13.1],[-4.7,-12.1],[-6.6,-15.2],[-6.9,-16.5],[-2.8,-14.8],[-1.5,-13.6],[0.1,-15.2],[-22.9,-15.2],[-21.3,-16.2],[-22,-17.8],[-18.6,-15.2],[-18.5,-16.5],[-17,-15.9],[-17.3,-16.9],[-14.5,-17.8],[-12.4,-17.8],[-13.4,-19],[-16.6,-20.5],[-15.2,-20.1],[-13.9,-20.9],[-10.6,-19.7],[-9.3,-17.8],[-8.4,-19.4],[-9.9,-21.3],[-4.1,-18.2],[-2.7,-18.8],[-1.5,-18.6],[1.1,-17.6],[0.5,-19.1],[-1.4,-20.1],[-1.6,-22.3],[1,-20.4],[2.4,-22],[4.4,-23.2],[2.4,-23.2],[0.8,-23.6],[-3,-22.4],[-5.6,-23],[-8.1,-24.3],[-6.8,-23.9],[-6.4,-25.6],[-4.9,-25.3],[-3.4,-25.6],[-2.5,-25.3],[-1.4,-26.2],[0.8,-25.6],[1.6,-26.8],[10.3,38.3],
[6,9],[5.5,11],[6.5,11.5],[5,12],[7,10.5],[6.5,9],[16,8],[15.5,9],[17.5,7],[18.5,6.2],[17.5,6],[19.8,13],[-7.3,15.5],[-7.6,13],[-7.8,12.5],[-6,17],[-8.3,9],[-7,9],[-7.7,8],[-6.9,-0.5],[-6.3,-1.2],[-2,-21],[-1.5,-21],[-1,-19.5],[0.3,-22.5],[1,-23],[2,-8.5],[2.5,-9.5],[3,-9.5],[2,-10.5],[2.5,-12.8],[3,-12.5],[1.8,-13.5],[3.3,-6.5],[19.5,-12.5],[18.5,-13],[20,-11],[18.7,-14.5],[19.3,-11],[-25.7,-5.5],[-26.5,-5.5],[-24,-11.5],[-23,-11.5],[-15,-11.5],[-15.5,-13],[-14.8,-19],[-14.2,-19.7],[-13.5,-20],[-14,-18.5],[-9,-19],[-8.6,-18],[-2,-27],[-1,-25.5],[0.5,-24.5],[1.2,-24.5],[17.3,-3],[16.8,-2.5],[18,-4],[24,-15],[24,-17],[-5,28.5],[-4.2,26.7],[-1,26.5],[-0.5,25],[-5.2,33],[-7,29.7],[14.2,15]];
const cnnLstmDqnFault1 = [[-24.4,28],[-23.2,29.4],[-22.6,28.4],[-21.3,30.2],[-20.3,29],[-21.8,29],[-20.1,27.3],[-24,27.7],[-27.3,13.4],[-26.6,13.8],[-23.5,28.5],[-22.8,29],[-22,29.5],[-21,29.7],[-21,28.5],[-23,27.9],[-22,28.1],[-24.2,28.5]];
const cnnLstmDqnFault2 = [[37.6,18.2],[-36.9,13.8],[-38,13.3],[-38.4,11.9],[-39.3,9.5],[-36.1,8.8],[-36.1,10.4],[-34.9,12],[-34.1,11.9],[-34.7,9.2],[-32.6,12.7],[-31.6,12],[-32.6,11.1],[-32.4,9.5],[-28.6,9.2],[-27.7,8.5],[-37.5,13],[-37,12],[-37.5,11.5],[-35.5,11],[-35,10],[-35.3,9],[-33.8,10.5],[-33,10],[-36.5,9.5],[-35.5,12.5],[-37,13.5]];
const cnnLstmDqnFault3 = [[13,47.1],[13.2,45.3],[37.6,15.5],[38.9,16.5],[40.5,16.7],[38.9,15.2],[38.9,13],[40.1,12.1],[42.8,11.3],[37.4,11.1],[41.6,10.2],[39.9,9.6],[37.6,9.6],[38.3,8.1],[37,7.2],[40.5,8.1],[41.6,6.8],[38.3,5.4],[39.4,5.4],[41.6,4.6],[39.6,2.9],[42.2,2],[43.4,1],[40.9,0.5],[42.2,0.1],[39.8,-1.3],[40.5,-1.4],[43.6,-1.3],[43.1,-3.2],[44.4,-2.8],
[-27,-36],[-25.3,-35.7],[-24,-35.7],[-26.1,-37.3],[-23.8,-36.9],[-22.7,-36],[-21.6,-37.3],[-20.6,-37],[-19.3,-37.8],[-25.1,-38.4],[-23.6,-39],[-22.2,-40.7],[-23.2,-39.9],[-20.1,-39.6],[-18.3,-39],[-18.9,-40.5],[-17.3,-41.5],[-16,-43.1],[-14.7,-42.1],[-13.4,-42.1],[-12,-43],[-10.7,-42.8],[-10.3,-43.4],[-15.3,-44.7],[-17,-46.2],[-16.6,-46],
[38.4,16.2],[39.5,16],[39.2,15],[38,15.8],[38.5,11],[38,9.5],[38.5,9],[37.5,8],[38,7],[37.6,7.5],[39,8],[40.5,7],[39,6],[38.8,5.2],[40,10],[40.5,9],[41,4],[40,3],[40.5,2.5],[41,1.5],[41.5,1],[-24.5,-37],[-23,-36.5],[-22,-37],[-21,-38],[-20.5,-38.5],[-19.5,-39],[-19.8,-38.5],[-19,-38.8],[-16,-41.5],[-15.5,-42.5],[-15,-43],[-16.2,-42.5],[-11,-43],[-12.5,-42.5],[-16.8,-46.4],[-16.5,-46.4]];
const cnnLstmDqnFault4 = [[10.3,42.2],[10.3,39.9],[11.3,38.2],[12.3,44.1],[11.8,42.2],[12,41.1],[13,39.7],[13.5,39.2],[13.6,41.6],[14.8,43.9],[15.5,43.5],[14.9,42],[16.3,42],[15.9,41.1],[16.4,39.9],[17.2,40.5],[-3.4,35.5],[-2.5,35.7],[-1.6,36.1],[-2.2,34.9],[-4.8,30.6],[-3.2,27],[-3.2,24.3],[1,20.4],[12,39.5],[12.5,39.5],[13,40.5],[13.5,40.2],[14,41],[14.5,41.5],[15.5,42],[15,41],[16.5,41],[16,40.5],[12.8,39.2],[15,43],[-2.8,35.6],[-2,35.8],[10.7,38.5]];

// ---- TBDDQN ----
const tbddqnXTicks = [-40, -20, 0, 20, 40];
const tbddqnYTicks = [-40, -20, 0, 20, 40];
const tbddqnNormal = [[7.5,34.4],[7.7,33.9],[8.1,32],[9,32.6],[9.2,31.3],[8.4,30.5],[10.3,30],[9.9,29.4],[8.8,28.8],[9,27.8],[10.7,28.1],[12.2,27.2],[12.7,27.5],[6.4,26.3],[7,25.1],[9,25.4],[8.1,23.8],[5.8,22.8],[8.4,22.3],[9.7,22.5],[8.1,20.8],[7.7,18.8],[7.7,17.8],[2.7,24.3],[0,22.9],[1.5,22.9],[2.7,23.1],[4,22.2],
[-8,20.4],[-7.2,20.1],[-7.2,18.6],[-8.5,17.1],[-6.3,17.7],[-2,19.2],[-3.1,18.2],[-3.3,17.3],[-0.1,17.8],[1.7,18.6],[3.4,18.6],[4.5,17.8],[5.5,16.8],[-4.3,16.2],[-4.3,15],[-2.2,15.9],[0,15.2],[6.2,15.2],[5.1,14.1],[-1.5,13.3],[-2,12.2],[2.1,12.2],[4,11.8],[5.8,11.8],[2.5,10.3],[4,10.1],[-5.8,12.4],[-5.5,10.7],[-8,10.9],[-9,9.4],[-17,11.1],[-14.5,10.1],[-13.4,9.2],[-12.3,8.6],[-15.8,8.6],[-14.7,7.7],[-13,7.6],[-7.6,7.9],[-6.1,7.5],[-0.9,9.2],[-1.6,8.6],[11.1,11.5],[11.7,9.8],[12,7.7],[3.6,7.1],[5.5,7.3],[7,6.8],[6.2,5.8],[-0.1,5.8],[1,5.5],[-7.8,6.1],[-10.5,6.7],[-11.7,4.9],[-9.9,5.1],[-4.3,4.7],[-4.3,5.1],[-15.5,4.6],[-17,4],[-18.5,4.9],[-20.7,6.5],[-22.9,4.1],[-20.3,4.3],[-19.6,2.5],[-23.7,1.6],[-25.2,0.4],[-21.8,2.3],[-20.9,1.7],[-18.8,1.3],[-17.2,1.7],[-18.8,-0.1],[-15.8,1],[-14.3,0.6],[-12.7,1.2],[-14.7,-0.9],[-8.7,2.5],[-8.7,1.3],[-9.9,0.2],[-6.5,0.2],[-5,2.5],[-5,1.3],[-5.4,0.2],[-8,-0.9],[-7,-2],[-6.5,-2.4],[-3.1,-1.6],[-2.8,-2.8],[-0.9,0.7],[1.7,2.8],[2.5,1.7],[1.3,0.2],[2.1,-0.7],[3.2,-1.6],[4,-3.5],[4.9,-1.6],[6.2,-0.9],[8.4,0.2],[7,4.3],[8.4,4.3],[9.9,5.1],[9.4,6.6],[11.4,5.6],[15.6,5.3],[14.4,4],[16.1,3.6],[15.2,2.6],[12.6,0.6],[14.8,0.6],[11.1,0.2],[11.4,-0.9],[12.9,-1.3],[9.9,-2.8],[10.7,-2],
[-26.3,-2.9],[-25.2,-1.6],[-24.1,-1.6],[-25.9,-4.4],[-22.9,-4.4],[-24.8,-5.2],[-24.4,-7.6],[-24.1,-8.6],[-20.7,-0.9],[-20.2,-1.1],[-21.1,-4.6],[-22.7,-6.9],[-21.1,-6.9],[-19.6,-6.5],[-17.9,-6.9],[-16.2,-2.4],[-15.5,-4.9],[-22.6,-7.6],[-20.5,-9.1],[-21.1,-9.9],[-23.7,-11],[-22.2,-12],[-20.1,-12.5],[-22.7,-13.6],[-21.8,-13.1],[-19.2,-15.3],[-17,-11.2],[-15.8,-11.4],[-14.3,-12.1],[-13,-8.6],[-12.5,-10.3],[-11.7,-5.4],[-11,-5.8],[-10.6,-2.4],[-9.1,-2.9],[-8,-6.1],[-9.5,-7.9],[-10.5,-9.4],[-11.4,-11.4],[-9.9,-11.8],[-11.7,-12.5],[-6.5,-5.8],[-7,-7.6],[-4.3,-5.9],[-5.2,-7.9],[-8,-9.5],[-6.9,-9.9],[-5.4,-11.8],[-4.3,-9.9],[-3.5,-11.9],[-0.1,-6.1],[-0.3,-7.6],[-0.5,-10.3],[-0.5,-11],[1.7,-4.3],[1.7,-8],[2.8,-8.4],[4.5,-8.4],[4.2,-9.9],[7.7,-7.3],[8.4,-10.6],[6.2,-11],[5.1,-12.1],[3.2,-12.4],[1.5,-12.1],[-1.6,-12.5],[8.1,-13.6],[-2.8,-14.4],[13.3,-4.3],[13.2,-5.8],[11.1,-6.1],[13.3,-8],[14.1,-8.8],[16.7,-1.6],[15.5,-4.1],[16.9,-4.3],[16.7,-6.1],[16.9,-7.6],[19.1,-2.2],[18.5,-3.5],[19.7,-3.9],[20.6,-5.6],[22,-6.3],[19.9,-7.3],[19.7,-8.4],[16.7,-9.5],[18.2,-10],[10.3,-9.9],[11.1,-11],[12.6,-11.6],[14.8,-12.1],[18.4,-13.1],[11.8,-13.2],[13.7,-13.6],[12.2,-15.1],[14.4,-15.5],[16.3,-14.5],[15.6,-17.1],[14.8,-18.1],
[-16.6,-15.1],[-15.5,-16.6],[-14.3,-17],[-17.2,-19.2],[-15.5,-20.1],[-14.3,-20.4],[-13.2,-22],[-15.5,-23.4],[-14.7,-22.8],[-13.6,-14.7],[-12.1,-15.1],[-10.6,-15.9],[-10.6,-17.6],[-9.5,-14.1],[-7.5,-14.4],[-7.3,-15.5],[-8,-17.7],[-8.7,-18.9],[-11.4,-20.6],[-10.6,-21.9],[-10.5,-23.4],[-9.1,-21.9],[-8.2,-23.1],[-7.2,-20],[-6.1,-18.5],[-5.5,-15.5],[-5,-14],[-5.8,-17],[-3.7,-17.7],[-3.5,-20.1],[-2.4,-16.6],[-0.9,-17.7],[0.2,-16.2],[1.7,-16.6],[2.1,-14],[4,-14.6],[5.5,-14.7],[2.2,-19.8],[4,-18.6],[5.7,-18.1],[7.5,-16.8],[7.9,-18.9],[9.4,-19.6],[11.1,-18.5],[12,-19.2],[13.3,-19.2],[11.8,-17],
[-23,-4],[-21,-5],[-22,-6],[-20,-6],[-21,3],[-20,2],[-19.5,0.8],[-21.5,0],[-19,3],[-22.5,-8.5],[-23,-9],[-22,-10.5],[-21.5,-12],[-19,-13],[8.7,31],[9.5,30.5],[9,29.5],[8,29],[9.5,29],[10,28.5],[7.5,24],[7.7,23],[8.5,23],[-12,-13],[-11,-14.5],[-10,-14],[-9.5,-16.5],[-8,-14],[-12,-17],[-13,-16],[-5,-15.5],[-4.8,-16.5],[-5,-13],[-7,-11],[-7.5,-8.5],[-6,-11],[-6,-8.5],[-5.5,-3],[-6,-1.5],[-7,-0.5],[-5.5,-1],[-8,3],[-12,-15],[-9,-20],[-10,-23],[-9.5,-22],[13,-11],[13.8,-12],[13.5,-15],[13,-16],[12.8,-17.5],[13.5,-18],[12.5,-14],[13.1,-3],[13,-7],[14,-17],[1,-14.5],[2,-12.3],[3,-15],[-17,-1],[-18,-2.5],[-16.5,1.5]];
const tbddqnFault1 = [[-24.4,30.2],[-23.7,30.9],[-24.1,29.4],[-22.9,30.2],[-22.4,30.8],[-20.7,31.7],[-20.7,30.3],[-20,31.1],[-18.8,31.5],[-24,30.5],[-23.4,30],[-23.2,29.7],[-22.5,30],[-21.6,30.5],[-21,31],[-19.5,31.5]];
const tbddqnFault2 = [[2.5,-28.2],[4.6,-38.7],[4.3,-39.8],[6.6,-40.6],[7.7,-40.9],[4.5,-41.8],[5.5,-40.6],[4.2,-43.6],[5.1,-44.3],[6.2,-43.6],[7,-42.1],[8.1,-43.2],[11.1,-40.2],[11.4,-40.6],[9.9,-41.7],[10.7,-41.7],[5,-41],[5.8,-41.5],[6.5,-41.8],[5,-42.8],[5.5,-43.3],[7,-43.5],[4.8,-43.8],[6.5,-44],[7.5,-43],[8,-42],[10.3,-41],[10.8,-40.8],[4.5,-44.5],[5.6,-44.2],[4.3,-40]];
const tbddqnFault3 = [[33.9,20.7],[32.7,18.9],[34.4,19.3],[33.9,17.8],[33.9,15.9],[34.6,14.8],[32.4,13.7],[33.1,12.8],[31.1,11.5],[34.2,10.3],[33.5,9.2],[36,8.8],[32,7],[33.5,7.3],[35.4,6.6],[38.1,7.7],[36.8,7],[31.4,4.3],[32.7,3.6],[34.2,3.6],[35.7,4.1],[31.6,2.8],[33.5,2.6],[39.5,4.7],[40.6,3.6],[41.7,2.8],[42.8,2.3],[44.3,1.3],[45.8,0.8],[45.1,-0.1],[-47.2,-2.6],[-46.3,-2.6],[-49,-4.6],[-44.4,-3.5],[-43.9,-4.3],[-43.1,-5.8],[-40.5,-5.8],[-41.6,-6.1],[-40.9,-7.9],[-46.1,-8.4],[-43.9,-8.8],[-42.4,-9.9],[-45,-10.6],[-47.4,-10.5],[-45,-13.2],[-43.5,-13.1],[-43.6,-15],
[33.8,19.5],[34,18.5],[33.7,17],[34.2,15.5],[33.5,14],[33.8,13.5],[33,9],[32.8,8],[33.8,8],[34.5,8.5],[34,7],[34.5,6.5],[35,7.5],[35.5,5],[34.5,5],[35,4.5],[33.5,5.5],[34,4.5],[33,4],[32,3.5],[32.5,2.5],[34.8,3],[35.3,3.8],[31.5,5],[40,4],[41,3.3],[43.5,1.8],[45,1],[-42.5,-8],[-41.5,-8.5],[-43,-9.5],[-42,-10.5],[-44.2,-9],[-44.5,-4.2],[-41.8,-7],[-40.8,-6],[-48.7,-4.2],[-47,-8.8]];
const tbddqnFault4 = [[6.4,36.6],[7,32.8],[4.1,21.3],[2.8,43],[1.7,42.5],[3.6,42.5],[1.7,40.3],[1.3,39.1],[2.8,38.8],[4.7,40.5],[4,39.5],[5.7,47],[7,47.8],[8.4,46.3],[5.5,44.8],[6.6,45.5],[8.2,44.8],[5.5,43.3],[3.6,41],[2,41.5],[2,43],[2.5,40],[3,41],[3,39.5],[2,39],[1.5,41],[1.5,42.5],[3.5,43],[3.2,40],[2.5,42],[5,45.5],[6,46.5],[6.5,47],[7.5,47.5],[8,46.5],[7,46],[8,45.5],[6.2,44.8],[7.3,46.8],[5.8,46],[5.8,44],[2.5,39],[3.7,39.2],[4.5,40]];

// each panel: plot rectangle on the page and the axis limits
const panels = [
  { title: 'CNN', titleAt: [699, 50], box: [136, 86, 1105, 1049], xLim: [-40.4, 50.7], yLim: [-40.35, 38.25],
    xTicks: cnnXTicks, yTicks: cnnYTicks, series: [cnnNormal, cnnFault1, cnnFault2, cnnFault3, cnnFault4] },
  { title: 'LSTM', titleAt: [1715, 46], box: [1218, 81, 2197, 1053], xLim: [-47.5, 41.96], yLim: [-58.7, 50.9],
    xTicks: lstmXTicks, yTicks: lstmYTicks, series: [lstmNormal, lstmFault1, lstmFault2, lstmFault3, lstmFault4] },
  { title: 'CNN-LSTM', titleAt: [2754, 46], box: [2323, 84, 3283, 1039], xLim: [-46.8, 40.06], yLim: [-52.6, 48.3],
    xTicks: cnnLstmXTicks, yTicks: cnnLstmYTicks, series: [cnnLstmNormal, cnnLstmFault1, cnnLstmFault2, cnnLstmFault3, cnnLstmFault4] },
  { title: 'CNN-DQN', titleAt: [704, 1149], box: [141, 1196, 1113, 2161], xLim: [-34.2, 19.4], yLim: [-28.1, 44.4],
    xTicks: cnnDqnXTicks, yTicks: cnnDqnYTicks, series: [cnnDqnNormal, cnnDqnFault1, cnnDqnFault2, cnnDqnFault3, cnnDqnFault4] },
  { title: 'CNN-LSTM-DQN', titleAt: [1736, 1151], box: [1231, 1196, 2204, 2163], xLim: [-43.55, 48.55], yLim: [-51.4, 51.8],
    xTicks: cnnLstmDqnXTicks, yTicks: cnnLstmDqnYTicks, series: [cnnLstmDqnNormal, cnnLstmDqnFault1, cnnLstmDqnFault2, cnnLstmDqnFault3, cnnLstmDqnFault4] },
  { title: 'TBDDQN', titleAt: [2721, 1154], box: [2314, 1194, 3286, 2161], xLim: [-53.66, 50.6], yLim: [-48.95, 52.4],
    xTicks: tbddqnXTicks, yTicks: tbddqnYTicks, series: [tbddqnNormal, tbddqnFault1, tbddqnFault2, tbddqnFault3, tbddqnFault4] }
];

const axisColor = '#1a1a1a';
const tickFont = { family: '"DejaVu Sans"', size: 40 };

// room around the plot inside each canvas
const padLeft = 130, padTop = 40, padRight = 50, padBottom = 70;

// frame on all four sides, and the legend box in the top right corner
const framePlugin = {
  id: 'frameAndLegend',
  afterDraw(chart) {
    const ctx = chart.ctx;
    const a = chart.chartArea;
    ctx.save();
    ctx.strokeStyle = axisColor;
    ctx.lineWidth = 2;
    ctx.strokeRect(a.left, a.top, a.right - a.left, a.bottom - a.top);

    const w = 202, h = 220;
    const x = a.right - 10 - w, y = a.top + 6;
    ctx.beginPath();
    ctx.roundRect(x, y, w, h, 6);
    ctx.fillStyle = 'rgba(255,255,255,0.8)';
    ctx.fill();
    ctx.strokeStyle = '#d6d6d6';
    ctx.stroke();

    ctx.font = '27px "DejaVu Sans"';
    ctx.textBaseline = 'middle';
    seriesNames.forEach(function (name, i) {
      const rowY = y + 27 + i * 41.8;
      ctx.beginPath();
      ctx.arc(x + 38.5, rowY, 9.5, 0, Math.PI * 2);
      ctx.fillStyle = seriesColors[i];
      ctx.fill();
      ctx.fillStyle = '#1a1a1a';
      ctx.fillText(name, x + 88, rowY);
    });
    ctx.restore();
  }
};

function axisOptions(lim, ticks, isX) {
  return {
    type: 'linear',
    position: isX ? 'bottom' : 'left',
    min: lim[0],
    max: lim[1],
    afterBuildTicks(scale) { scale.ticks = ticks.map(v => ({ value: v })); },
    afterFit(scale) {
      if (isX) scale.height = padBottom;
      else scale.width = padLeft;
    },
    grid: { display: true, drawOnChartArea: false, drawTicks: true, tickLength: 9, tickWidth: 2, tickColor: axisColor },
    border: { display: true, color: axisColor, width: 2 },
    ticks: {
      font: tickFont,
      color: '#111',
      padding: isX ? 10 : 8,
      labelOffset: isX ? 0 : 3,
      autoSkip: false,
      maxRotation: 0,
      callback: v => String(v).replace('-', '\u2212')
    }
  };
}

const page = document.getElementById('page');

panels.forEach(function (p) {
  const [left, top, right, bottom] = p.box;
  const canvas = document.createElement('canvas');
  canvas.width = right - left + padLeft + padRight;
  canvas.height = bottom - top + padTop + padBottom;
  canvas.style.left = (left - padLeft) + 'px';
  canvas.style.top = (top - padTop) + 'px';
  page.appendChild(canvas);

  const title = document.createElement('div');
  title.className = 'title';
  title.textContent = p.title;
  title.style.left = p.titleAt[0] + 'px';
  title.style.top = p.titleAt[1] + 'px';
  page.appendChild(title);

  new Chart(canvas.getContext('2d'), {
    type: 'scatter',
    data: {
      datasets: p.series.map(function (points, i) {
        return {
          label: seriesNames[i],
          data: points.map(q => ({ x: q[0], y: q[1] })),
          backgroundColor: seriesColors[i],
          borderWidth: 0,
          pointRadius: 8.5,
          pointHoverRadius: 8.5,
          order: p.series.length - i   // Fault 4 ends up on top, Normal underneath
        };
      })
    },
    options: {
      responsive: false,
      animation: false,
      devicePixelRatio: 1,
      layout: { padding: { left: 0, top: padTop, right: padRight, bottom: 0 } },
      plugins: { legend: { display: false }, title: { display: false }, tooltip: { enabled: false } },
      scales: { x: axisOptions(p.xLim, p.xTicks, true), y: axisOptions(p.yLim, p.yTicks, false) }
    },
    plugins: [framePlugin]
  });
});
</script>
</body>
</html>
